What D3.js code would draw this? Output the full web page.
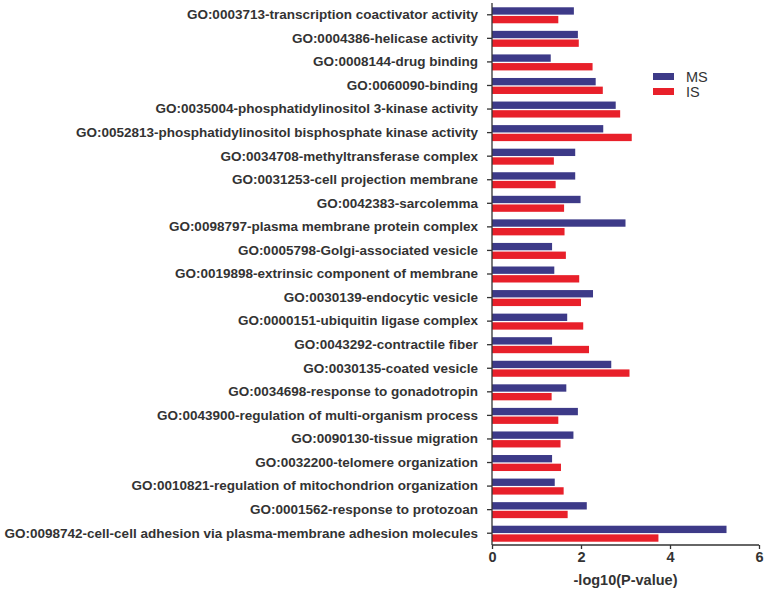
<!DOCTYPE html>
<html>
<head>
<meta charset="utf-8">
<script src="https://cdn.jsdelivr.net/npm/d3@7"></script>
<style>
body{margin:0;background:#fff;}
svg{display:block;}
</style>
</head>
<body>
<svg id="chart" width="767" height="591"></svg>
<script>
const categories = [
  "GO:0003713-transcription coactivator activity",
  "GO:0004386-helicase activity",
  "GO:0008144-drug binding",
  "GO:0060090-binding",
  "GO:0035004-phosphatidylinositol 3-kinase activity",
  "GO:0052813-phosphatidylinositol bisphosphate kinase activity",
  "GO:0034708-methyltransferase complex",
  "GO:0031253-cell projection membrane",
  "GO:0042383-sarcolemma",
  "GO:0098797-plasma membrane protein complex",
  "GO:0005798-Golgi-associated vesicle",
  "GO:0019898-extrinsic component of membrane",
  "GO:0030139-endocytic vesicle",
  "GO:0000151-ubiquitin ligase complex",
  "GO:0043292-contractile fiber",
  "GO:0030135-coated vesicle",
  "GO:0034698-response to gonadotropin",
  "GO:0043900-regulation of multi-organism process",
  "GO:0090130-tissue migration",
  "GO:0032200-telomere organization",
  "GO:0010821-regulation of mitochondrion organization",
  "GO:0001562-response to protozoan",
  "GO:0098742-cell-cell adhesion via plasma-membrane adhesion molecules"
];
const msValues = [1.84,1.93,1.32,2.33,2.78,2.50,1.87,1.87,1.99,3.00,1.35,1.40,2.27,1.69,1.35,2.68,1.67,1.93,1.83,1.35,1.41,2.13,5.27];
const isValues = [1.49,1.95,2.26,2.49,2.88,3.14,1.39,1.43,1.62,1.63,1.66,1.96,2.00,2.05,2.18,3.09,1.34,1.49,1.54,1.55,1.61,1.70,3.74];
const seriesNames = ["MS","IS"];
const seriesColors = ["#3d3a88","#e8202a"];
const xTicks = [0,2,4,6];
const xTitle = "-log10(P-value)";

const svg = d3.select("#chart");
const x = d3.scaleLinear().domain([0,6]).range([492,759]);
const y = d3.scaleBand().domain(categories).range([3,545]).padding(0);
const sub = d3.scaleBand().domain(seriesNames).range([-7.5,8.5]).paddingInner(0.15);

const g = svg.append("g");
categories.forEach((c,i)=>{
  const vals=[msValues[i],isValues[i]];
  seriesNames.forEach((s,j)=>{
    g.append("rect")
      .attr("x",x(0))
      .attr("y",y(c)+y.bandwidth()/2+sub(s))
      .attr("width",x(vals[j])-x(0))
      .attr("height",sub.bandwidth())
      .attr("fill",seriesColors[j]);
  });
});

// y axis
const yAxis = d3.axisLeft(y).tickSize(5).tickPadding(9);
const ya = svg.append("g").attr("transform",`translate(${x(0)},0)`).call(yAxis);
ya.select(".domain").attr("stroke","#333").attr("stroke-width",1.3).attr("d",`M0,3V545`);
ya.selectAll(".tick line").attr("stroke","#333").attr("stroke-width",1.3);
ya.selectAll(".tick text").attr("font-family","Liberation Sans, Arial, sans-serif")
  .attr("font-weight","bold").attr("font-size","13.5px").attr("fill","#333");

// x axis
const xAxis = d3.axisBottom(x).tickValues(xTicks).tickSize(4).tickPadding(3).tickFormat(d3.format("d"));
const xa = svg.append("g").attr("transform",`translate(0,545)`).call(xAxis);
xa.select(".domain").attr("stroke","#333").attr("stroke-width",1.3).attr("d",`M492,0H759`);
xa.selectAll(".tick line").attr("stroke","#333").attr("stroke-width",1.3);
xa.selectAll(".tick text").attr("font-family","Liberation Sans, Arial, sans-serif")
  .attr("font-weight","bold").attr("font-size","14.5px").attr("fill","#333");

svg.append("text").attr("x",(x(0)+x(6))/2).attr("y",585)
  .attr("text-anchor","middle").attr("font-family","Liberation Sans, Arial, sans-serif")
  .attr("font-weight","bold").attr("font-size","14.5px").attr("fill","#333").text(xTitle);

// legend
const leg = svg.append("g").attr("transform","translate(653,73)");
seriesNames.forEach((s,j)=>{
  leg.append("rect").attr("x",0).attr("y",j*15).attr("width",21).attr("height",7).attr("fill",seriesColors[j]);
  leg.append("text").attr("x",33).attr("y",j*15+9).attr("font-family","Liberation Sans, Arial, sans-serif")
    .attr("font-size","14.5px").attr("fill","#333").text(s);
});
</script>
</body>
</html>
